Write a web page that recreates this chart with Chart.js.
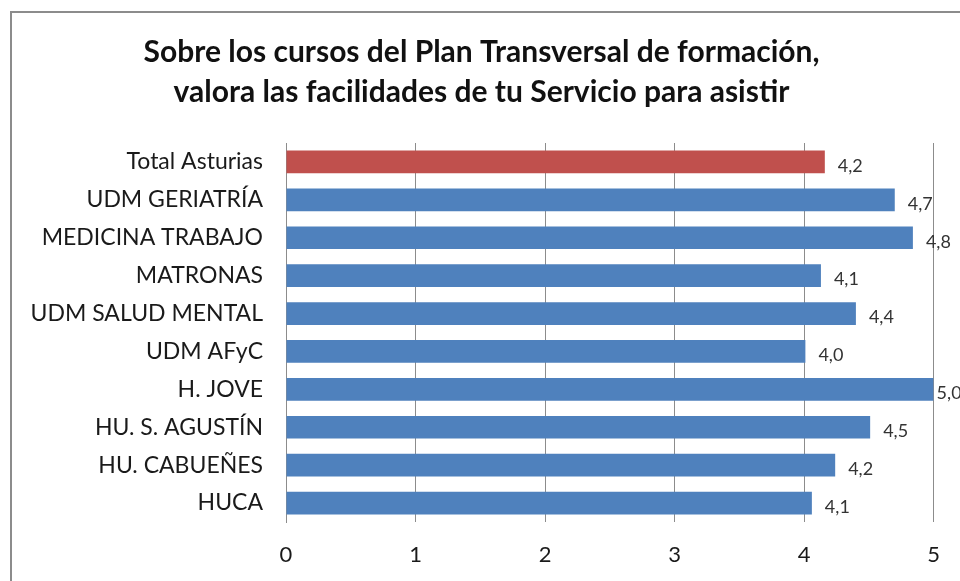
<!DOCTYPE html>
<html>
<head>
<meta charset="utf-8">
<script src="https://cdn.jsdelivr.net/npm/chart.js@4/dist/chart.umd.min.js"></script>
<style>
  html, body { margin:0; padding:0; background:#fff; overflow:hidden; }
  #wrap { position:absolute; left:0; top:0; width:960px; height:581px; }
  #frame { position:absolute; left:10px; top:11px; width:1000px; height:700px;
           border:2px solid #8c8c8c; pointer-events:none; }
</style>
</head>
<body>
<div id="wrap"><canvas id="chart" width="960" height="581"></canvas></div>
<div id="frame"></div>
<script>
// ── Data ─────────────────────────────────────────────────────
const categories = ['Total Asturias', 'UDM GERIATRÍA', 'MEDICINA TRABAJO', 'MATRONAS',
                    'UDM SALUD MENTAL', 'UDM AFyC', 'H. JOVE', 'HU. S. AGUSTÍN',
                    'HU. CABUEÑES', 'HUCA'];
const values     = [4.16, 4.70, 4.84, 4.13, 4.40, 4.01, 5.00, 4.51, 4.24, 4.06];
const xTicks     = [0, 1, 2, 3, 4, 5];
const titleLines = ['Sobre los cursos del Plan Transversal de formación,',
                    'valora las facilidades de tu Servicio para asistir'];

const C = { blue:'#4f81bd', red:'#c0504d', grid:'#8c8c8c', text:'#1a1a1a', label:'#333' };
const FONT = 'Lato, "Noto Sans", sans-serif';

// value labels to the right of each bar, comma decimal (pulled in at the plot edge)
const barLabels = {
  id:'barLabels',
  afterDatasetsDraw(chart) {
    const { ctx, chartArea } = chart;
    const meta = chart.getDatasetMeta(0);
    ctx.save();
    ctx.font = `18px ${FONT}`;
    ctx.fillStyle = C.label;
    ctx.textAlign = 'left';
    ctx.textBaseline = 'middle';
    meta.data.forEach((bar, i) => {
      const x = Math.min(bar.x + 13, chartArea.right + 3);
      ctx.fillText(values[i].toFixed(1).replace('.', ','), x, bar.y + 4);
    });
    ctx.restore();
  }
};

new Chart(document.getElementById('chart').getContext('2d'), {
  type:'bar',
  data:{ labels:categories, datasets:[{
    data:values,
    backgroundColor:values.map((v, i) => i === 0 ? C.red : C.blue),
    borderWidth:0,
    categoryPercentage:0.6, barPercentage:1
  }]},
  options:{
    indexAxis:'y', responsive:false, animation:false,
    layout:{ padding:{ left:28, right:25, top:0, bottom:0 } },
    plugins:{
      legend:{ display:false }, tooltip:{ enabled:false },
      title:{ display:true, text:titleLines, color:'#111',
              font:{ family:FONT, size:30, weight:'bold', lineHeight:40/30 },
              padding:{ top:32, bottom:31 } }
    },
    scales:{
      x:{ min:0, max:5,
          afterBuildTicks:s => { s.ticks = xTicks.map(v => ({ value:v })); },
          afterFit:s => { s.height = 59; },
          grid:{ color:C.grid, lineWidth:1, drawTicks:false },
          border:{ display:false },
          ticks:{ color:C.text, padding:20, font:{ family:FONT, size:22 } } },
      y:{ afterFit:s => { s.width = 258; },
          grid:{ display:false, drawTicks:false },
          border:{ display:true, color:C.grid, width:1 },
          ticks:{ color:C.text, padding:23, font:{ family:FONT, size:23 } } }
    }
  },
  plugins:[barLabels]
});
</script>
</body>
</html>
